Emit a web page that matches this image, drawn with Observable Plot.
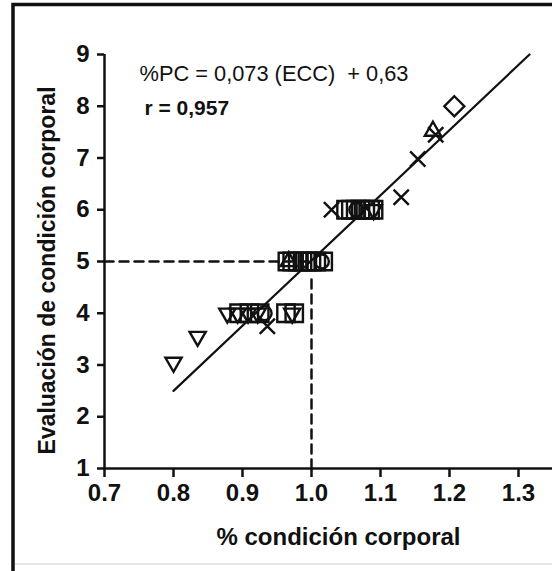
<!DOCTYPE html>
<html>
<head>
<meta charset="utf-8">
<script src="https://cdn.jsdelivr.net/npm/d3@7"></script>
<script src="https://cdn.jsdelivr.net/npm/@observablehq/plot@0.6"></script>
<style>
  html, body { margin: 0; padding: 0; background: #fff; }
  #chart { width: 552px; height: 571px; overflow: hidden; }
</style>
</head>
<body>
<div id="chart"></div>
<script>
// ---- data ----
const xTicks = [0.7, 0.8, 0.9, 1.0, 1.1, 1.2, 1.3];
const yTicks = [1, 2, 3, 4, 5, 6, 7, 8, 9];

const squareX = [1.050, 1.057, 1.064, 1.071, 1.078, 1.085, 1.090,
                 0.965, 0.972, 0.980, 0.987, 0.994, 1.000, 1.007, 1.017,
                 0.895, 0.910, 0.925, 0.963, 0.975];
const squareY = [6, 6, 6, 6, 6, 6, 6,
                 5, 5, 5, 5, 5, 5, 5, 5,
                 4, 4, 4, 4, 4];

const triDownX = [0.800, 0.835, 0.878, 0.893, 0.908, 0.922, 0.972, 1.090];
const triDownY = [3.05, 3.55, 4, 4, 4, 4, 4, 6];

const triUpX = [0.967, 1.176];
const triUpY = [5, 7.52];

const circleX = [0.932, 1.015, 1.065];
const circleY = [4, 5, 6];

const timesX = [0.936, 1.029, 1.130, 1.154, 1.180];
const timesY = [3.75, 6, 6.24, 6.98, 7.45];

const diamondX = [1.207];
const diamondY = [8];

// regression line end points (as drawn)
const regX = [0.80, 1.316];
const regY = [2.5, 9];

// reference values for the dashed guides
const refX = 1.0;
const refY = 5;
const refYTop = 4.65;

const equation = "%PC = 0,073 (ECC)  + 0,63";
const rText = "r = 0,957";
const xTitle = "% condición corporal";
const yTitle = "Evaluación de condición corporal";

// ---- helpers ----
const zip = (xs, ys) => xs.map((x, i) => ({x, y: ys[i]}));
const triangleDown = {
  draw(context, size) {
    const s3 = Math.sqrt(3);
    const y = Math.sqrt(size / (s3 * 3));
    context.moveTo(0, 2 * y);
    context.lineTo(-s3 * y, -y);
    context.lineTo(s3 * y, -y);
    context.closePath();
  }
};

const W = 552, H = 571;
const mL = 104, mR = 0, mT = 54, mB = 103;
const xMin = 0.7, xMax = 0.7 + (W - mL - mR) / 690;

const markStyle = {stroke: "#111", fill: "none", strokeWidth: 2.4};

const plot = Plot.plot({
  width: W,
  height: H,
  marginLeft: mL,
  marginRight: mR,
  marginTop: mT,
  marginBottom: mB,
  style: {fontFamily: "'Liberation Sans', Arial, sans-serif", fontSize: "24px", fontWeight: "bold", color: "#111", background: "transparent"},
  x: {domain: [xMin, xMax]},
  y: {domain: [1, 9]},
  marks: [
    // dashed guides
    Plot.line([{x: xMin, y: refY}, {x: refX, y: refY}], {x: "x", y: "y", stroke: "#111", strokeWidth: 2.5, strokeDasharray: "9,6"}),
    Plot.line([{x: refX, y: 1}, {x: refX, y: refYTop}], {x: "x", y: "y", stroke: "#111", strokeWidth: 2.5, strokeDasharray: "9,6"}),
    // regression line
    Plot.line(zip(regX, regY), {x: "x", y: "y", stroke: "#111", strokeWidth: 2.2}),
    // points
    Plot.dot(zip(squareX, squareY), {x: "x", y: "y", symbol: "square", r: 9.8, ...markStyle}),
    Plot.dot(zip(triDownX, triDownY), {x: "x", y: "y", symbol: triangleDown, r: 6, ...markStyle}),
    Plot.dot(zip(triUpX, triUpY), {x: "x", y: "y", symbol: "triangle", r: 6, ...markStyle}),
    Plot.dot(zip(circleX, circleY), {x: "x", y: "y", symbol: "circle", r: 7, ...markStyle}),
    Plot.dot(zip(timesX, timesY), {x: "x", y: "y", symbol: "times", r: 7, ...markStyle}),
    Plot.dot(zip(diamondX, diamondY), {x: "x", y: "y", symbol: "diamond2", r: 9, ...markStyle}),
    // axes
    Plot.ruleY([1], {stroke: "#111", strokeWidth: 2.5}),
    Plot.ruleX([0.7], {y1: 1, y2: 9, stroke: "#111", strokeWidth: 2.5}),
    Plot.axisX({ticks: xTicks, tickFormat: d3.format(".1f"), tickSize: 9, tickPadding: 6, strokeWidth: 2.5, label: null, fontSize: 24, fontWeight: "bold"}),
    Plot.axisY({ticks: yTicks, tickFormat: d3.format("d"), tickSize: 7, tickPadding: 8, strokeWidth: 2.5, label: null, fontSize: 24, fontWeight: "bold"}),
    // titles
    Plot.text([xTitle], {frameAnchor: "bottom", dx: 10, dy: 69, fontSize: 24, fontWeight: "bold", fill: "#111", textAnchor: "middle", lineAnchor: "middle"}),
    Plot.text([yTitle], {frameAnchor: "left", dx: -57, dy: 9, rotate: -90, fontSize: 23, fontWeight: "bold", fill: "#111", textAnchor: "middle", lineAnchor: "middle"}),
    // annotations
    Plot.text([equation], {frameAnchor: "top-left", dx: 35, dy: 19, textAnchor: "start", lineAnchor: "middle", fontSize: 22, fontWeight: "normal", fill: "#111", className: "eq"}),
    Plot.text([rText], {frameAnchor: "top-left", dx: 40, dy: 54, textAnchor: "start", lineAnchor: "middle", fontSize: 21, fontWeight: "bold", fill: "#111"})
  ]
});

// outer frame of the figure (partly cropped on the right, as in the reference)
const svg = d3.select(plot);
svg.insert("path", ":first-child")
  .attr("d", `M13,${H}V4.5H${W}`)
  .attr("fill", "none").attr("stroke", "#111").attr("stroke-width", 3.5);
svg.insert("path", ":first-child")
  .attr("d", `M15,564H${W}`)
  .attr("fill", "none").attr("stroke", "#ddd").attr("stroke-width", 1.5);
// narrow the equation text like the condensed face of the original
svg.selectAll(".eq text").attr("textLength", 269).attr("lengthAdjust", "spacingAndGlyphs");

document.getElementById("chart").appendChild(plot);
</script>
</body>
</html>
